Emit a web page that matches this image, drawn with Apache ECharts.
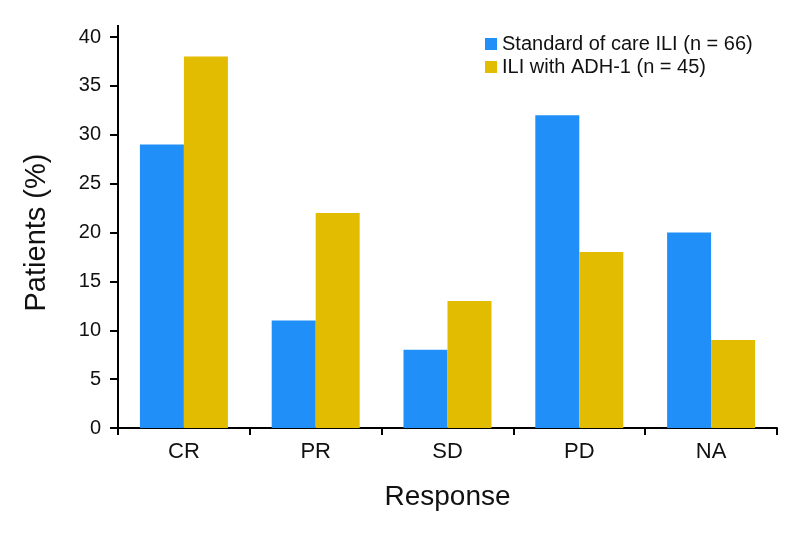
<!DOCTYPE html>
<html><head><meta charset="utf-8">
<script src="https://cdn.jsdelivr.net/npm/echarts@6/dist/echarts.min.js"></script>
<style>html,body{margin:0;padding:0;background:#fff}#c{width:809px;height:539px}</style>
</head><body><div id="c"></div>
<script>
const categories = ['CR', 'PR', 'SD', 'PD', 'NA'];
const standardCare = [29, 11, 8, 32, 20];
const withADH1 = [38, 22, 13, 18, 9];
const seriesNames = ['Standard of care ILI (n = 66)', 'ILI with ADH-1 (n = 45)'];
const yTicks = { min: 0, max: 40, interval: 5 };

const font = 'Liberation Sans, Arial, Helvetica, sans-serif';
const chart = echarts.init(document.getElementById('c'));
chart.setOption({
  animation: false,
  backgroundColor: '#fff',
  grid: { left: 118, right: 32, top: 37, bottom: 111 },
  legend: {
    left: 480, top: 29, orient: 'vertical', itemWidth: 12, itemHeight: 12, itemGap: 3,
    icon: 'rect',
    textStyle: { fontFamily: font, fontSize: 20, color: '#111' },
    data: seriesNames
  },
  xAxis: {
    type: 'category', data: categories,
    name: 'Response', nameLocation: 'middle', nameGap: 55,
    nameTextStyle: { fontFamily: font, fontSize: 28, color: '#111' },
    axisLine: { lineStyle: { color: '#000', width: 2 } },
    axisTick: { show: true, length: 7, lineStyle: { color: '#000', width: 2 } },
    axisLabel: { fontFamily: font, fontSize: 22, color: '#111', margin: 13 }
  },
  yAxis: {
    type: 'value', min: yTicks.min, max: yTicks.max, interval: yTicks.interval,
    name: 'Patients (%)', nameLocation: 'middle', nameGap: 67,
    nameTextStyle: { fontFamily: font, fontSize: 29, color: '#111' },
    axisLine: { show: true, lineStyle: { color: '#000', width: 2 } },
    axisTick: { show: true, length: 8, lineStyle: { color: '#000', width: 2 } },
    axisLabel: { fontFamily: font, fontSize: 20, color: '#111', margin: 17 },
    splitLine: { show: false }
  },
  series: [
    { name: seriesNames[0], type: 'bar', data: standardCare, barWidth: 44, barGap: '0%', itemStyle: { color: '#2090F8' } },
    { name: seriesNames[1], type: 'bar', data: withADH1, barWidth: 44, barGap: '0%', itemStyle: { color: '#E2BC00' } }
  ],
  graphic: [
    { type: 'line', shape: { x1: 118, y1: 25, x2: 118, y2: 38 }, style: { stroke: '#000', lineWidth: 2 } }
  ]
});
</script></body></html>
